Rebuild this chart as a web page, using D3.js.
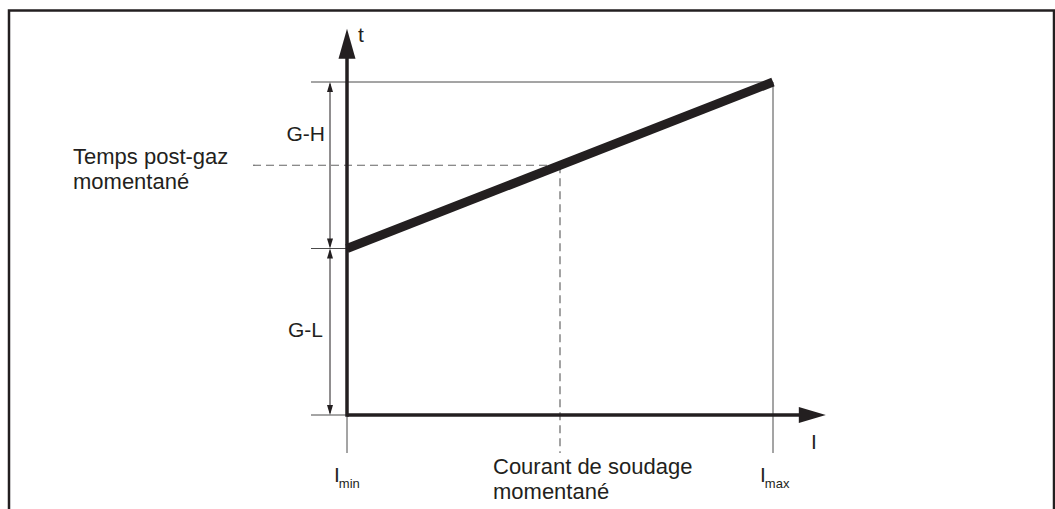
<!DOCTYPE html>
<html>
<head>
<meta charset="utf-8">
<script src="https://cdn.jsdelivr.net/npm/d3@7"></script>
<style>
  html, body { margin: 0; padding: 0; background: #fff; }
  svg { display: block; }
  text { font-family: "Liberation Sans", Arial, sans-serif; fill: #231f20; }
</style>
</head>
<body>
<svg id="chart" width="1055" height="509"></svg>
<script>
// ---- data ----
const currentDomain = [0, 100];          // I_min .. I_max (relative)
const timeDomain = [0, 10];              // t (relative)
const currentMin = 0;
const currentMax = 100;
const currentMoment = 50;                // momentary welding current
const gasLow = 5;                        // G-L
const gasHigh = 10;                      // G-H
const gasMoment = 7.5;                   // momentary post-gas time
const lineCurrent = [0, 100];
const lineTime = [5, 10];
const axisCurrentEnd = 112.4;
const axisTimeEnd = 11.6;
const leftLabel = ["Temps post-gaz", "momentané"];
const bottomLabel = ["Courant de soudage", "momentané"];
const tickLabels = [{ base: "I", sub: "min", v: 0 }, { base: "I", sub: "max", v: 100 }];

// ---- setup ----
const svg = d3.select("#chart");
const ink = "#231f20";
const thin = "#4a4a4a";
const x = d3.scaleLinear().domain(currentDomain).range([347, 773]);
const y = d3.scaleLinear().domain(timeDomain).range([415, 82]);

// frame
svg.append("rect").attr("x", 9).attr("y", 10.5).attr("width", 1045).attr("height", 520)
  .attr("fill", "none").attr("stroke", ink).attr("stroke-width", 2.5);

const tickLeft = 311;
const tickBottom = 453;

// thin reference lines
const g = svg.append("g").attr("stroke", thin).attr("stroke-width", 1).attr("fill", "none");
g.append("line").attr("x1", tickLeft).attr("x2", x(currentMax)).attr("y1", y(gasHigh)).attr("y2", y(gasHigh));
g.append("line").attr("x1", tickLeft).attr("x2", x(currentMin)).attr("y1", y(gasLow)).attr("y2", y(gasLow));
g.append("line").attr("x1", tickLeft).attr("x2", x(currentMin)).attr("y1", y(0)).attr("y2", y(0));
g.append("line").attr("x1", x(currentMin)).attr("x2", x(currentMin)).attr("y1", y(0)).attr("y2", tickBottom);
g.append("line").attr("x1", x(currentMax)).attr("x2", x(currentMax)).attr("y1", y(gasHigh)).attr("y2", tickBottom);

// dashed lines
const dg = svg.append("g").attr("stroke", "#666").attr("stroke-width", 1.2).attr("stroke-dasharray", "8,5").attr("fill", "none");
dg.append("line").attr("x1", 253).attr("x2", x(currentMoment)).attr("y1", y(gasMoment)).attr("y2", y(gasMoment));
dg.append("line").attr("x1", x(currentMoment)).attr("x2", x(currentMoment)).attr("y1", y(gasMoment)).attr("y2", tickBottom);

// dimension arrows
const dimX = 330;
function dimArrow(t0, t1) {
  const ya = y(t1), yb = y(t0);
  svg.append("line").attr("x1", dimX).attr("x2", dimX).attr("y1", ya + 2).attr("y2", yb - 2)
    .attr("stroke", ink).attr("stroke-width", 1);
  svg.append("path").attr("d", `M${dimX},${ya}L${dimX - 3},${ya + 10}L${dimX + 3},${ya + 10}Z`).attr("fill", ink);
  svg.append("path").attr("d", `M${dimX},${yb}L${dimX - 3},${yb - 10}L${dimX + 3},${yb - 10}Z`).attr("fill", ink);
}
dimArrow(gasLow, gasHigh);
dimArrow(0, gasLow);

// axes
svg.append("line").attr("x1", x(currentMin)).attr("x2", x(axisCurrentEnd) - 20).attr("y1", y(0)).attr("y2", y(0))
  .attr("stroke", ink).attr("stroke-width", 3.5);
svg.append("line").attr("x1", x(currentMin)).attr("x2", x(currentMin)).attr("y1", y(0) + 1.75).attr("y2", y(axisTimeEnd) + 20)
  .attr("stroke", ink).attr("stroke-width", 3.5);
const xt = x(axisCurrentEnd), yt = y(axisTimeEnd);
svg.append("path").attr("d", `M${xt},${y(0)}L${xt - 27},${y(0) - 8}L${xt - 27},${y(0) + 8}Z`).attr("fill", ink);
svg.append("path").attr("d", `M${x(currentMin)},${yt}L${x(currentMin) - 8.5},${yt + 30}L${x(currentMin) + 8.5},${yt + 30}Z`).attr("fill", ink);

// thick characteristic line
const line = d3.line().x(d => x(d[0])).y(d => y(d[1]));
svg.append("path").datum(lineCurrent.map((c, i) => [c, lineTime[i]]))
  .attr("d", line).attr("stroke", ink).attr("stroke-width", 9).attr("fill", "none").attr("stroke-linecap", "butt");

// labels
const fs = 22;
svg.append("text").attr("x", 358).attr("y", 42).attr("font-size", 21).text("t");
svg.append("text").attr("x", 811).attr("y", 449).attr("font-size", 21).text("I");
svg.append("text").attr("x", 325).attr("y", 141).attr("text-anchor", "end").attr("font-size", 21).text("G-H");
svg.append("text").attr("x", 323).attr("y", 337).attr("text-anchor", "end").attr("font-size", 21).text("G-L");

const lt = svg.append("text").attr("font-size", fs);
leftLabel.forEach((s, i) => lt.append("tspan").attr("x", 73).attr("y", 164 + i * 25).text(s));
const bt = svg.append("text").attr("font-size", fs);
bottomLabel.forEach((s, i) => bt.append("tspan").attr("x", 493).attr("y", 474 + i * 25).text(s));

tickLabels.forEach(d => {
  const t = svg.append("text").attr("x", x(d.v) - 13).attr("y", 482).attr("font-size", 21);
  t.append("tspan").text(d.base);
  t.append("tspan").attr("font-size", 13).attr("dy", 6).attr("dx", -1).text(d.sub);
});
</script>
</body>
</html>
